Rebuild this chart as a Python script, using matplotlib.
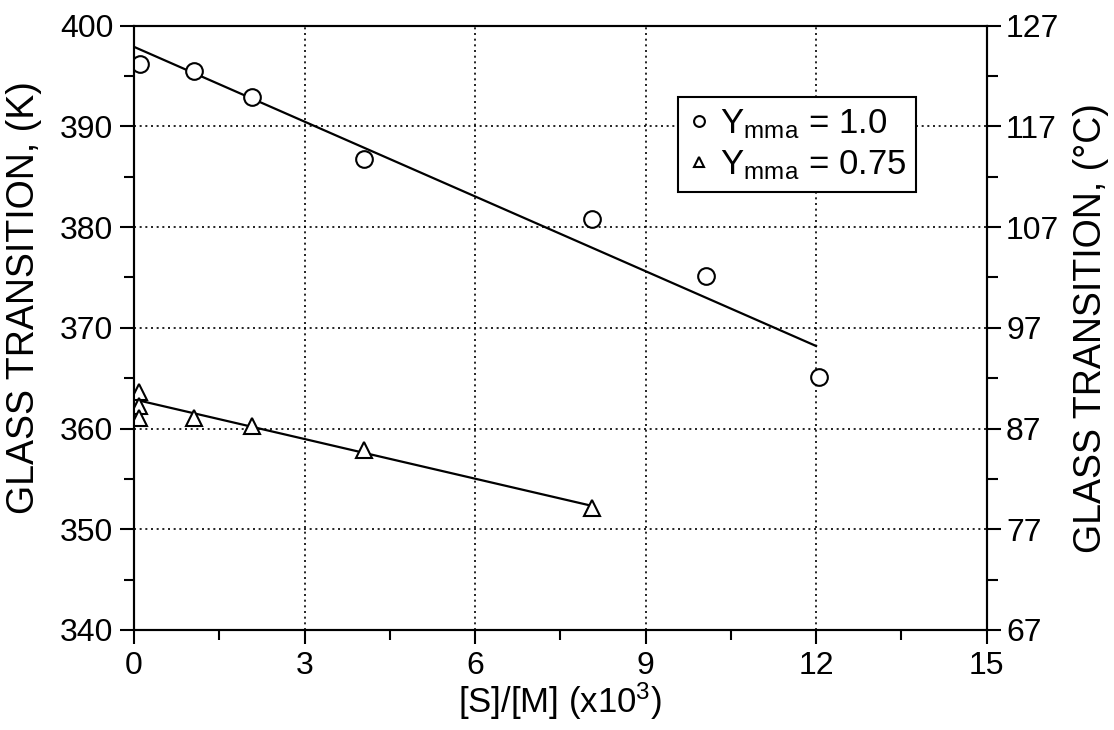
import matplotlib
matplotlib.use("Agg")
import matplotlib.pyplot as plt
from matplotlib.ticker import MultipleLocator, FixedLocator

plt.rcParams['font.family'] = ['Liberation Sans', 'DejaVu Sans']
plt.rcParams['mathtext.fontset'] = 'custom'
plt.rcParams['mathtext.rm'] = 'Liberation Sans'
plt.rcParams['mathtext.it'] = 'Liberation Sans'
plt.rcParams['mathtext.default'] = 'regular'

# Data
x_mma100 = [0.1, 1.05, 2.07, 4.05, 8.06, 10.07, 12.05]
tg_mma100 = [396.2, 395.5, 392.9, 386.8, 380.8, 375.1, 365.1]
fit_mma100_x = [0, 12]
fit_mma100_y = [397.9, 368.2]

x_mma075 = [0.08, 0.08, 0.08, 1.06, 2.07, 4.05, 8.05]
tg_mma075 = [363.6, 362.2, 361.0, 361.0, 360.3, 357.9, 352.1]
fit_mma075_x = [0, 8]
fit_mma075_y = [362.9, 352.4]

right_major_ticks = [67, 77, 87, 97, 107, 117, 127]
right_minor_ticks = [72, 82, 92, 102, 112, 122]

label_100 = r'$\mathrm{Y_{mma}}$ = 1.0'
label_075 = r'$\mathrm{Y_{mma}}$ = 0.75'
xlabel = r'[S]/[M] (x10$^{3}$)'
ylabel_left = 'GLASS TRANSITION, (K)'
ylabel_right = 'GLASS TRANSITION, (°C)'

fig = plt.figure(figsize=(11.14, 7.3), dpi=100)
ax = fig.add_axes([0.1203, 0.137, 0.7653, 0.8278])

ax.plot(fit_mma100_x, fit_mma100_y, color='black', lw=1.6, zorder=2)
ax.plot(fit_mma075_x, fit_mma075_y, color='black', lw=1.6, zorder=2)
ax.plot(x_mma100, tg_mma100, linestyle='none', marker='o', ms=12, mfc='white',
        mec='black', mew=1.5, label=label_100, zorder=3)
ax.plot(x_mma075, tg_mma075, linestyle='none', marker='^', ms=12, mfc='white',
        mec='black', mew=1.5, label=label_075, zorder=3)

ax.set_xlim(0, 15)
ax.set_ylim(340, 400)
ax.xaxis.set_major_locator(MultipleLocator(3))
ax.xaxis.set_minor_locator(MultipleLocator(1.5))
ax.yaxis.set_major_locator(MultipleLocator(10))
ax.yaxis.set_minor_locator(MultipleLocator(5))
ax.grid(True, which='major', linestyle=(0, (1.2, 2.2)), color='black', lw=1.2)
for s in ax.spines.values():
    s.set_linewidth(1.5)
ax.tick_params(axis='both', which='major', direction='out', length=10, width=1.5,
               labelsize=23, pad=5)
ax.tick_params(axis='both', which='minor', direction='out', length=7, width=1.5)
ax.set_xlabel(xlabel, fontsize=25, labelpad=0)
ax.set_ylabel(ylabel_left, fontsize=27)
ax.yaxis.set_label_coords(-0.108, 0.55)

ax2 = ax.twinx()
ax2.set_ylim(340 - 273, 400 - 273)
ax2.yaxis.set_major_locator(FixedLocator(right_major_ticks))
ax2.yaxis.set_minor_locator(FixedLocator(right_minor_ticks))
ax2.tick_params(axis='y', which='major', direction='out', length=10, width=1.5,
                labelsize=23, pad=4)
ax2.tick_params(axis='y', which='minor', direction='out', length=8, width=1.5)
for s in ax2.spines.values():
    s.set_linewidth(1.5)
ax2.set_ylabel(ylabel_right, fontsize=27, labelpad=10)

leg = ax.legend(loc='upper left', bbox_to_anchor=(0.638, 0.882), fontsize=25,
                frameon=True, fancybox=False, edgecolor='black', framealpha=1,
                markerscale=0.65, handlelength=0.6, handletextpad=0.3,
                borderpad=0.3, labelspacing=0.2, borderaxespad=0)
leg.get_frame().set_linewidth(1.5)

fig.savefig('out.png', dpi=100)
